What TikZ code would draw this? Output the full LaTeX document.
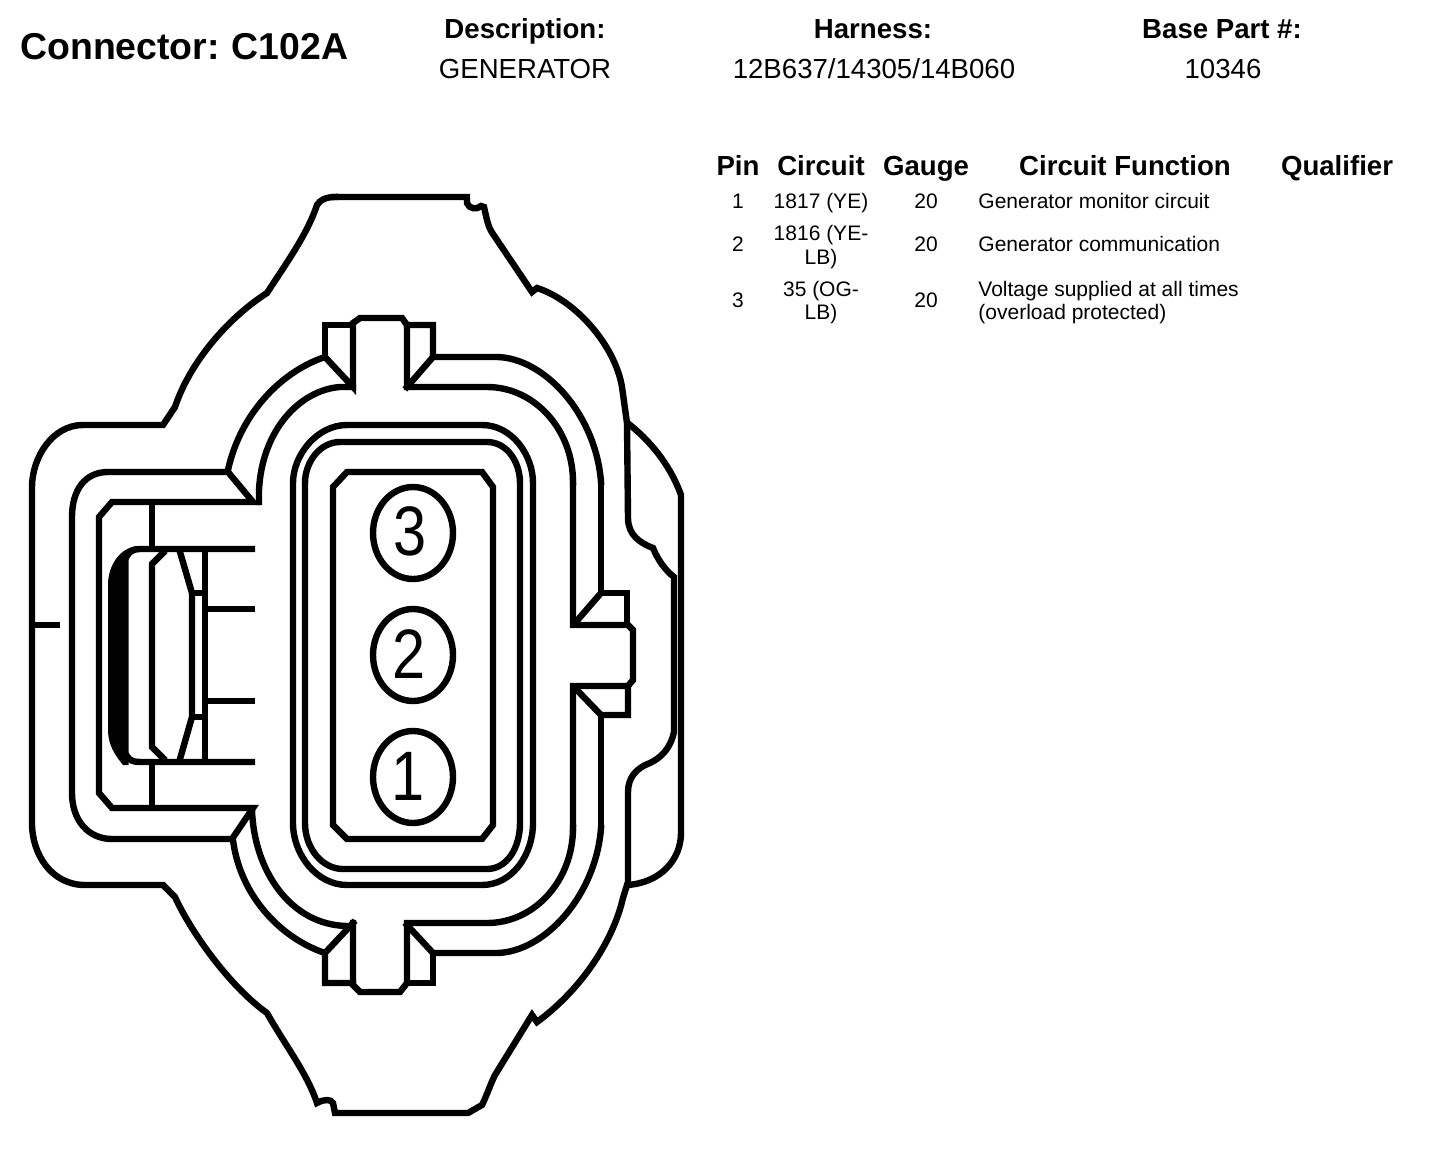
\documentclass[tikz,border=0pt]{standalone}
\usepackage{fontspec}
\setmainfont{Liberation Sans}
\tikzset{
  ln/.style={line width=3.2pt,line cap=rect,line join=miter,miter limit=4},
  titletext/.style={anchor=base west,inner sep=0,font=\fontsize{18.7}{20}\selectfont\bfseries},
  headtext/.style={anchor=base,inner sep=0,font=\fontsize{13.8}{15}\selectfont\bfseries},
  valtext/.style={anchor=base,inner sep=0,font=\fontsize{13.8}{15}\selectfont},
  cell/.style={anchor=base,inner sep=0,font=\fontsize{10.5}{11.5}\selectfont},
  cellw/.style={anchor=base west,inner sep=0,font=\fontsize{10.5}{11.5}\selectfont},
  digit/.style={inner sep=0,font=\fontsize{35}{35}\selectfont}
}
\begin{document}
\begin{tikzpicture}[x=0.5pt,y=-0.5pt]
\useasboundingbox (0,0) rectangle (1440,1150);
\fill[white] (0,0) rectangle (1440,1150);
% ---- outer body outline
\draw[ln] (335,197) -- (467,197) -- (467,203) .. controls (469,209) and (477,210) .. (481,206) -- (484,207) .. controls (487,220) and (488,227) .. (493,234) -- (532,292) -- (537,288)
  .. controls (575,300) and (615,345) .. (622,387) -- (627,423) -- (628,518) .. controls (628,535) and (640,543) .. (653,548) .. controls (658,560) and (665,570) .. (674,577) -- (674,732)
  .. controls (670,750) and (660,758) .. (650,763) .. controls (636,768) and (628,778) .. (628,792) -- (628,885);
\draw[ln] (630,425) .. controls (655,445) and (672,470) .. (681,495) -- (681,833) .. controls (681,860) and (660,883) .. (627,885) -- (623,898)
  .. controls (612,945) and (578,992) .. (537,1022) -- (532,1015) -- (495,1075) .. controls (490,1085) and (487,1095) .. (482,1105) -- (468,1113) -- (335,1113) -- (333,1103) .. controls (331,1099) and (324,1099) .. (317,1103)
  .. controls (307,1073) and (285,1045) .. (267,1013) .. controls (228,985) and (190,930) .. (175,897) -- (163,885) -- (85,885) .. controls (52,885) and (32,855) .. (32,823)
  -- (32,487) .. controls (32,458) and (52,425) .. (83,425) -- (163,425) -- (175,407) .. controls (190,362) and (228,318) .. (267,293) .. controls (285,265) and (307,235) .. (317,205) .. controls (320,200) and (326,197) .. (335,197);
\draw[ln] (35,625) -- (57,625);
% ---- latch frame
\draw[ln] (108,472) -- (228,472) -- (253,502) -- (112,502) -- (99,517) -- (99,793) -- (112,808) -- (253,808) -- (232,839) -- (112,839) .. controls (88,839) and (72,820) .. (72,793) -- (72,517) .. controls (72,490) and (85,472) .. (108,472) -- cycle;
% ---- latch interior
\fill (137,546) .. controls (120,548) and (108,565) .. (108,585) -- (108,730) .. controls (108,745) and (115,755) .. (123,765) -- (128.5,765) -- (128.5,552) -- cycle;
\draw[ln] (127,556) .. controls (129,552) and (133,549) .. (140,549) -- (252,549);
\draw[ln] (127,756) .. controls (129,760) and (133,762) .. (140,762) -- (252,762);
\draw[ln] (152,504) -- (152,548);
\draw[ln] (152,763) -- (152,806);
\draw[ln] (206,609) -- (252,609);
\draw[ln] (206,701) -- (252,701);
\draw[ln] (205,550) -- (205,761);
\draw[ln] (163,553) -- (152,564) -- (152,747) -- (163,758);
\draw[ln] (180,552) -- (192,593) -- (192,717) -- (180,759);
\draw[ln] (192,593) -- (204,593);
\draw[ln] (192,717) -- (204,717);
% ---- collar, top
\draw[ln] (228,470) .. controls (240,415) and (280,372) .. (325,357) -- (353,387) -- (353,323) -- (360,318) -- (402,318) -- (407,325) -- (407,387) -- (487,387) .. controls (535,387) and (573,430) .. (573,482);
\draw[ln] (325,357) -- (325,325) -- (353,325);
\draw[ln] (407,325) -- (433,325) -- (433,357) -- (407,387);
\draw[ln] (433,357) -- (497,357) .. controls (545,358) and (596,415) .. (601,482);
\draw[ln] (259,502) -- (259,490) .. controls (262,430) and (300,390) .. (340,387) -- (353,387);
% ---- collar, right key
\draw[ln] (573,482) -- (573,625) -- (628,625) -- (633,630) -- (633,680) -- (628,686) -- (573,686) -- (573,828);
\draw[ln] (601,482) -- (601,593) -- (627,593) -- (627,625);
\draw[ln] (601,593) -- (575,623);
\draw[ln] (628,686) -- (628,715) -- (601,715) -- (575,688);
\draw[ln] (601,715) -- (601,828);
% ---- collar, bottom
\draw[ln] (573,828) .. controls (573,880) and (535,923) .. (487,923) -- (407,923) -- (407,983) -- (400,992) -- (360,992) -- (353,985) -- (353,923);
\draw[ln] (601,828) .. controls (596,895) and (545,952) .. (497,953) -- (433,953) -- (407,925);
\draw[ln] (433,953) -- (433,983) -- (407,983);
\draw[ln] (353,983) -- (325,983) -- (325,953) -- (353,923);
\draw[ln] (325,953) .. controls (280,938) and (240,895) .. (233,840);
\draw[ln] (252,810) .. controls (254,870) and (290,925) .. (347,926);
% ---- rounded walls
\draw[ln] (347,425) -- (482,425) .. controls (512,425) and (533,455) .. (533,483) -- (533,823) .. controls (533,855) and (512,885) .. (482,885) -- (347,885) .. controls (317,885) and (293,855) .. (293,823) -- (293,483) .. controls (293,455) and (317,425) .. (347,425) -- cycle;
\draw[ln] (340,442) -- (487,442) .. controls (507,442) and (520,462) .. (520,483) -- (520,823) .. controls (520,848) and (507,869) .. (487,869) -- (343,869) .. controls (322,869) and (305,848) .. (305,823) -- (305,483) .. controls (305,462) and (320,442) .. (340,442) -- cycle;
\draw[ln] (347,472) -- (482,472) -- (493,487) -- (493,825) -- (482,839) -- (347,839) -- (333,825) -- (333,487) -- cycle;
% ---- pins
\draw[ln] (413,533) ellipse [x radius=40,y radius=46];
\draw[ln] (413,655) ellipse [x radius=40,y radius=46];
\draw[ln] (413,777) ellipse [x radius=40,y radius=46];
\node[digit] (pin3) at (410,531) {\scalebox{0.85}[1]{3}};
\node[digit] (pin2) at (409,654) {\scalebox{0.85}[1]{2}};
\node[digit] (pin1) at (408,776) {\scalebox{0.85}[1]{1}};
% ---- heading
\node[titletext] (title) at (20,60) {Connector:\hspace{6pt}C102A};
\node[headtext] (hdesc) at (525,39) {Description:};
\node[valtext] (vdesc) at (525,79) {GENERATOR};
\node[headtext] (hharn) at (873,39) {Harness:};
\node[valtext] (vharn) at (874,79) {12B637/14305/14B060};
\node[headtext] (hbase) at (1222,39) {Base Part \#:};
\node[valtext] (vbase) at (1223,79) {10346};
% ---- table
\node[headtext] (cpin) at (738,175.5) {Pin};
\node[headtext] (ccir) at (821,175.5) {Circuit};
\node[headtext] (cgau) at (926,175.5) {Gauge};
\node[headtext] (cfun) at (1125,175.5) {Circuit Function};
\node[headtext] (cqua) at (1337,175.5) {Qualifier};
\node[cell] (p1) at (738,209) {1};
\node[cell] (c1) at (821,209) {1817 (YE)};
\node[cell] (g1) at (926,209) {20};
\node[cellw] (f1) at (978,209) {Generator monitor circuit};
\node[cell] (p2) at (738,252) {2};
\node[cell] (c2a) at (821,241) {1816 (YE-};
\node[cell] (c2b) at (821,264) {LB)};
\node[cell] (g2) at (926,252) {20};
\node[cellw] (f2) at (978,252) {Generator communication};
\node[cell] (p3) at (738,307) {3};
\node[cell] (c3a) at (821,297) {35 (OG-};
\node[cell] (c3b) at (821,320) {LB)};
\node[cell] (g3) at (926,307) {20};
\node[cellw] (f3a) at (978,297) {Voltage supplied at all times};
\node[cellw] (f3b) at (978,320) {(overload protected)};
\end{tikzpicture}
\end{document}
